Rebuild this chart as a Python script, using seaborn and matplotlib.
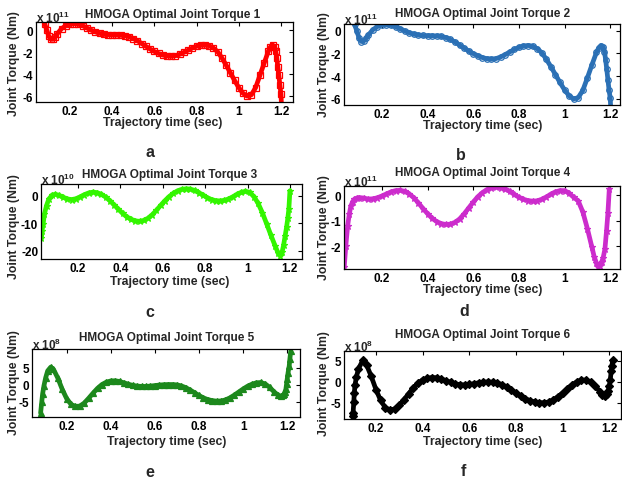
import matplotlib
matplotlib.use('Agg')
import matplotlib.pyplot as plt
import seaborn as sns

# ---------------- data ----------------
t_a = [0.08, 0.09, 0.10, 0.11, 0.12, 0.13, 0.14,
       0.16, 0.18, 0.20, 0.22, 0.24, 0.26, 0.28, 0.30, 0.32, 0.34,
       0.36, 0.38, 0.40, 0.42, 0.44, 0.46, 0.48, 0.50, 0.52, 0.54,
       0.56, 0.58, 0.60, 0.62, 0.64, 0.66, 0.68, 0.70, 0.72, 0.74,
       0.76, 0.78, 0.80, 0.82, 0.84, 0.86, 0.88, 0.90, 0.92, 0.94,
       0.96, 0.98, 1.00, 1.02, 1.04, 1.06, 1.08, 1.10, 1.12, 1.14,
       1.15, 1.16, 1.17, 1.175, 1.18, 1.185, 1.19, 1.195, 1.20, 1.203]
torque1 = [0.6, 0.05, -0.55, -0.82, -0.8, -0.58, -0.3,
           0.15, 0.42, 0.56, 0.6, 0.55, 0.42, 0.22, 0.02, -0.14, -0.27,
           -0.36, -0.41, -0.43, -0.44, -0.45, -0.49, -0.58, -0.74, -0.95, -1.2,
           -1.45, -1.7, -1.92, -2.1, -2.24, -2.33, -2.36, -2.31, -2.18, -2.0,
           -1.8, -1.6, -1.45, -1.36, -1.34, -1.4, -1.6, -1.95, -2.5, -3.15,
           -3.85, -4.55, -5.2, -5.72, -5.98, -5.85, -5.2, -4.1, -3.0, -1.9,
           -1.5, -1.32, -1.5, -1.85, -2.5, -3.3, -4.1, -5.0, -5.8, -7.0]

t_b = t_a
torque2 = [0.55, 0.0, -0.65, -0.95, -0.92, -0.68, -0.4,
           0.08, 0.36, 0.5, 0.52, 0.47, 0.35, 0.17, -0.02, -0.18, -0.3,
           -0.38, -0.42, -0.44, -0.45, -0.46, -0.5, -0.6, -0.77, -0.99, -1.25,
           -1.52, -1.78, -2.01, -2.2, -2.36, -2.46, -2.5, -2.45, -2.31, -2.1,
           -1.87, -1.65, -1.47, -1.35, -1.3, -1.36, -1.57, -1.93, -2.5, -3.15,
           -3.85, -4.55, -5.2, -5.72, -6.0, -5.88, -5.25, -4.15, -3.0, -1.9,
           -1.5, -1.3, -1.45, -1.85, -2.55, -3.4, -4.3, -5.2, -5.9, -7.0]

t_c = [0.027, 0.030, 0.035, 0.041, 0.051, 0.062, 0.078, 0.093,
       0.11, 0.13, 0.15, 0.17, 0.19, 0.21, 0.23, 0.25, 0.27, 0.29,
       0.31, 0.33, 0.35, 0.37, 0.39, 0.41, 0.43, 0.45, 0.47, 0.49,
       0.51, 0.53, 0.55, 0.57, 0.59, 0.61, 0.63, 0.65, 0.67, 0.69,
       0.71, 0.73, 0.75, 0.77, 0.79, 0.81, 0.83, 0.85, 0.87, 0.89,
       0.91, 0.93, 0.95, 0.97, 0.99, 1.01, 1.03, 1.05, 1.07, 1.09,
       1.11, 1.13, 1.145, 1.155, 1.163, 1.17, 1.177, 1.184, 1.19, 1.195, 1.20]
torque3 = [-15.5, -12.7, -10.3, -6.7, -3.6, -1.2, 0.25, 0.5,
           0.1, -0.6, -1.2, -1.4, -1.1, -0.4, 0.4, 1.0, 1.3, 1.1,
           0.5, -0.5, -1.8, -3.3, -4.9, -6.4, -7.7, -8.6, -9.15, -9.3,
           -9.0, -8.2, -6.9, -5.3, -3.5, -1.8, -0.3, 0.9, 1.8, 2.3,
           2.5, 2.4, 1.9, 1.1, 0.2, -0.7, -1.4, -1.8, -1.9, -1.7,
           -1.2, -0.4, 0.5, 1.2, 1.6, 1.2, -0.3, -2.8, -6.2, -10.2,
           -14.3, -18.2, -21.0, -21.9, -20.5, -18.0, -14.8, -11.5, -8.2, -4.8, 1.8]

t_d = [0.035, 0.042, 0.05, 0.057, 0.064, 0.072, 0.079, 0.09,
       0.10, 0.12, 0.14, 0.16, 0.18, 0.20, 0.22, 0.24, 0.26, 0.28,
       0.30, 0.32, 0.34, 0.36, 0.38, 0.40, 0.42, 0.44, 0.46, 0.48,
       0.50, 0.52, 0.54, 0.56, 0.58, 0.60, 0.62, 0.64, 0.66, 0.68,
       0.70, 0.72, 0.74, 0.76, 0.78, 0.80, 0.82, 0.84, 0.86, 0.88,
       0.90, 0.92, 0.94, 0.96, 0.98, 1.00, 1.02, 1.04, 1.06, 1.08,
       1.10, 1.12, 1.13, 1.14, 1.148, 1.155, 1.162, 1.169, 1.177, 1.184, 1.19, 1.196]
torque4 = [-2.81, -1.97, -1.19, -0.75, -0.42, -0.25, -0.16, -0.11,
           -0.09, -0.11, -0.15, -0.14, -0.1, -0.03, 0.05, 0.13, 0.18, 0.19,
           0.15, 0.05, -0.1, -0.3, -0.52, -0.72, -0.9, -1.03, -1.11, -1.14,
           -1.13, -1.06, -0.93, -0.73, -0.5, -0.27, -0.06, 0.1, 0.22, 0.29,
           0.31, 0.3, 0.25, 0.15, 0.03, -0.08, -0.16, -0.21, -0.23, -0.22,
           -0.16, -0.07, 0.04, 0.13, 0.18, 0.18, 0.08, -0.08, -0.22, -0.65,
           -1.3, -2.03, -2.4, -2.65, -2.8, -2.75, -2.62, -2.45, -2.1, -1.39, -0.7, 0.23]

t_e = [0.082, 0.087, 0.091, 0.097, 0.105, 0.114, 0.128,
       0.14, 0.16, 0.18, 0.20, 0.22, 0.24, 0.26, 0.28, 0.30, 0.32,
       0.34, 0.36, 0.38, 0.40, 0.42, 0.44, 0.46, 0.48, 0.50, 0.52,
       0.54, 0.56, 0.58, 0.60, 0.62, 0.64, 0.66, 0.68, 0.70, 0.72,
       0.74, 0.76, 0.78, 0.80, 0.82, 0.84, 0.86, 0.88, 0.90, 0.92,
       0.94, 0.96, 0.98, 1.00, 1.02, 1.04, 1.06, 1.08, 1.10, 1.12,
       1.14, 1.16, 1.17, 1.18, 1.185, 1.19, 1.194, 1.197, 1.20, 1.204,
       1.209, 1.212, 1.216]
torque5 = [-8.25, -5.1, -2.7, -0.3, 2.1, 4.1, 5.2,
           4.6, 2.0, -1.3, -4.0, -5.7, -6.3, -6.2, -5.3, -3.9, -2.4,
           -1.0, 0.1, 0.8, 1.15, 1.2, 1.0, 0.6, 0.2, -0.15, -0.35,
           -0.45, -0.45, -0.35, -0.2, -0.05, 0.05, 0.1, 0.1, 0.0, -0.3,
           -0.8, -1.5, -2.3, -3.1, -3.8, -4.3, -4.6, -4.75, -4.7, -4.4,
           -3.8, -3.0, -2.1, -1.2, -0.4, 0.2, 0.6, 0.7, 0.3, -0.7,
           -2.0, -3.1, -3.3, -3.1, -2.7, -2.0, -1.25, 0.2, 1.7, 3.6,
           5.5, 7.5, 9.9]

t_f = [0.100, 0.102, 0.105, 0.107, 0.110, 0.116, 0.125, 0.143,
       0.16, 0.18, 0.20, 0.22, 0.24, 0.26, 0.28, 0.30, 0.32, 0.34,
       0.36, 0.38, 0.40, 0.42, 0.44, 0.46, 0.48, 0.50, 0.52, 0.54,
       0.56, 0.58, 0.60, 0.62, 0.64, 0.66, 0.68, 0.70, 0.72, 0.74,
       0.76, 0.78, 0.80, 0.82, 0.84, 0.86, 0.88, 0.90, 0.92, 0.94,
       0.96, 0.98, 1.00, 1.02, 1.04, 1.06, 1.08, 1.10, 1.12, 1.14,
       1.16, 1.17, 1.18, 1.19, 1.195, 1.20, 1.204, 1.208, 1.211, 1.214]
torque6 = [-8.2, -7.3, -4.7, -2.7, -0.8, 1.2, 3.1, 5.1,
           4.0, 1.3, -1.8, -4.4, -6.1, -6.7, -6.4, -5.5, -4.2, -2.8,
           -1.4, -0.3, 0.5, 0.9, 1.05, 1.0, 0.7, 0.3, -0.1, -0.45,
           -0.65, -0.7, -0.6, -0.4, -0.2, -0.05, 0.0, -0.05, -0.25, -0.65,
           -1.2, -1.9, -2.7, -3.4, -4.0, -4.45, -4.75, -4.9, -4.95, -4.75,
           -4.25, -3.5, -2.6, -1.6, -0.7, 0.0, 0.45, 0.45, 0.0, -1.0,
           -2.3, -3.0, -3.4, -2.9, -2.2, -1.0, 0.5, 2.6, 3.8, 5.1]

titles = ['HMOGA Optimal Joint Torque %d' % i for i in range(1, 7)]
letters = ['a', 'b', 'c', 'd', 'e', 'f']
exponents = ['11', '11', '10', '11', '8', '8']
x_ticks = [0.2, 0.4, 0.6, 0.8, 1.0, 1.2]
x_ticklabels = ['0.2', '0.4', '0.6', '0.8', '1', '1.2']
y_ticks = [[0, -2, -4, -6], [0, -2, -4, -6], [0, -10, -20],
           [0, -1, -2], [5, 0, -5], [5, 0, -5]]
xlabel = 'Trajectory time (sec)'
ylabel = 'Joint Torque (Nm)'

series = [(t_a, torque1), (t_b, torque2), (t_c, torque3),
          (t_d, torque4), (t_e, torque5), (t_f, torque6)]

# ---------------- styling / layout ----------------
W, H = 622, 481
rects = [(36, 23, 293, 103), (344, 25, 620, 106),
         (41, 185, 302, 260), (344, 187, 620, 270),
         (32, 350, 300, 418), (344, 352, 621, 420)]
xlims = [(0.039, 1.257), (0.034, 1.243), (0.025, 1.257),
         (0.034, 1.243), (0.043, 1.258), (0.063, 1.25)]
ylims = [(-6.51, 0.76), (-6.53, 0.59), (-23.0, 4.25),
         (-2.88, 0.36), (-9.4, 10.5), (-8.8, 7.35)]
title_px = [(172.5, 15), (482.5, 14), (170, 175), (482.7, 173.5),
            (166.7, 338.5), (482.7, 335)]
xlabel_px = [(163, 123), (482.7, 126), (170, 281.7), (482.7, 290),
             (166.7, 441.7), (482.7, 441.7)]
ylabel_px = [(13.5, 64), (324.5, 65), (13.5, 226.7), (324.5, 228),
             (13.5, 383), (324.5, 384)]
letter_px = [(150, 153), (461, 155), (150, 313), (464, 312),
             (150, 473), (463, 472)]
styles = [
    dict(color='#ff0000', marker='s', mfc='none', ls='-', ms=4.0),
    dict(color='#2b70b5', marker='o', mfc='none', ls=':', ms=4.0),
    dict(color='#33f500', marker='*', mfc='#33f500', ls='-', ms=5.0),
    dict(color='#cc2ccc', marker='*', mfc='#cc2ccc', ls='-', ms=4.5),
    dict(color='#1c881c', marker='^', mfc='#1c881c', ls='-', ms=4.6),
    dict(color='#000000', marker='D', mfc='#000000', ls='-.', ms=3.8),
]

sns.set_theme(style='white')
plt.rcParams['font.family'] = ['Liberation Sans', 'DejaVu Sans']
plt.rcParams['font.weight'] = 'bold'
plt.rcParams['mathtext.fontset'] = 'custom'
plt.rcParams['mathtext.rm'] = 'Liberation Sans'
plt.rcParams['axes.edgecolor'] = 'black'
plt.rcParams['axes.linewidth'] = 0.9

fig = plt.figure(figsize=(W / 100, H / 100), dpi=100)
fig.patch.set_facecolor('white')


def fx(px):
    return px / W


def fy(py):
    return 1 - py / H


FS = 8.5
for i in range(6):
    l, t, r, b = rects[i]
    ax = fig.add_axes([fx(l), fy(b), (r - l) / W, (b - t) / H])
    tt, yy = series[i]
    st = styles[i]
    sns.lineplot(x=tt, y=yy, ax=ax, color=st['color'], linewidth=3.4,
                 sort=False, estimator=None)
    sns.lineplot(x=tt, y=yy, ax=ax, color=st['color'], linewidth=0.8,
                 linestyle=st['ls'], marker=st['marker'],
                 markersize=st['ms'], markerfacecolor=st['mfc'],
                 markeredgecolor=st['color'], markeredgewidth=0.9,
                 sort=False, estimator=None)
    ax.set_xlim(*xlims[i])
    ax.set_ylim(*ylims[i])
    ax.set_xticks(x_ticks)
    ax.set_xticklabels(x_ticklabels)
    ax.set_yticks(y_ticks[i])
    ax.set_yticklabels([str(v) for v in y_ticks[i]])
    ax.tick_params(direction='in', length=3, width=0.8, top=True, right=True,
                   labelsize=FS, pad=2, colors='black')
    for lab in ax.get_xticklabels() + ax.get_yticklabels():
        lab.set_fontweight('bold')
    for s in ax.spines.values():
        s.set_visible(True)
        s.set_color('black')
    ax.set_xlabel('')
    ax.set_ylabel('')
    ax.set_facecolor('white')
    # exponent marker
    ax.text(0.0, 1.0, 'x 10$^{%s}$' % exponents[i], transform=ax.transAxes,
            ha='left', va='baseline', fontsize=FS, fontweight='bold')
    fig.text(fx(title_px[i][0]), fy(title_px[i][1]), titles[i],
             ha='center', va='center', fontsize=FS, fontweight='bold')
    fig.text(fx(xlabel_px[i][0]), fy(xlabel_px[i][1]), xlabel,
             ha='center', va='center', fontsize=FS + 0.3, fontweight='bold')
    fig.text(fx(ylabel_px[i][0]), fy(ylabel_px[i][1]), ylabel,
             ha='center', va='center', rotation=90, fontsize=FS + 0.3,
             fontweight='bold')
    fig.text(fx(letter_px[i][0]), fy(letter_px[i][1]), letters[i],
             ha='center', va='center', fontsize=11.5, fontweight='bold')

fig.savefig('out.png', dpi=100, facecolor='white')
